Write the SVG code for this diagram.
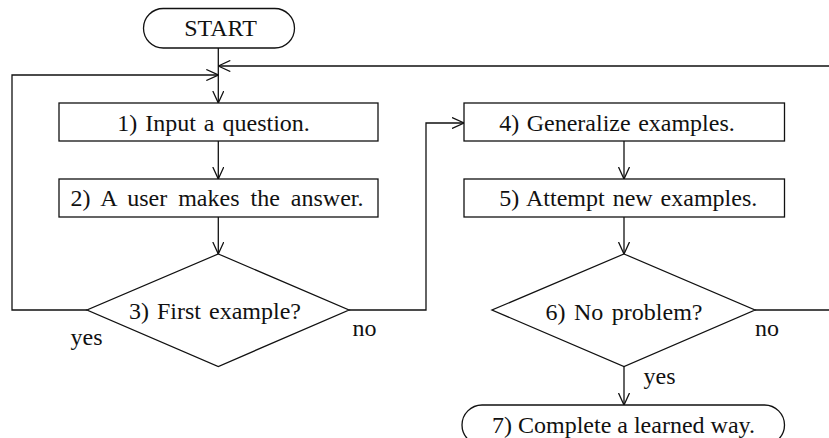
<svg xmlns="http://www.w3.org/2000/svg" width="829" height="438" viewBox="0 0 829 438">
<style>
.s{fill:#fff;stroke:#111;stroke-width:1.3}
.c{fill:none;stroke:#111;stroke-width:1.3}
text{font-family:"Liberation Serif","Times New Roman",serif;font-size:24px;fill:#111;text-anchor:middle}
</style>
<defs>
<marker id="a" viewBox="0 0 13 12" refX="12.5" refY="6" markerWidth="13" markerHeight="12" markerUnits="userSpaceOnUse" orient="auto">
<path d="M0.5,0.5 L12.5,6 L0.5,11.5" fill="none" stroke="#111" stroke-width="1.3"/>
</marker>
</defs>
<rect width="829" height="438" fill="#fff"/>
<g id="connectors">
<path class="c" d="M218.3,48 V103" marker-end="url(#a)"/>
<path class="c" d="M755,310 H840 V66 H218.3" marker-end="url(#a)"/>
<path class="c" d="M87,310 H12 V75 H218.3" marker-end="url(#a)"/>
<path class="c" d="M218.3,141 V179" marker-end="url(#a)"/>
<path class="c" d="M218.3,217 V254" marker-end="url(#a)"/>
<path class="c" d="M349,310 H426 V123 H464" marker-end="url(#a)"/>
<path class="c" d="M624,141 V179" marker-end="url(#a)"/>
<path class="c" d="M624,217 V254" marker-end="url(#a)"/>
<path class="c" d="M624,367 V405" marker-end="url(#a)"/>
</g>
<g id="start">
<rect class="s" x="143.5" y="8.5" width="151" height="39.5" rx="19.75"/>
<text x="220.5" y="36">START</text>
</g>
<g id="n1">
<rect class="s" x="59" y="103" width="319" height="38"/>
<text x="213.5" y="131" word-spacing="2">1) Input a question.</text>
</g>
<g id="n2">
<rect class="s" x="59" y="179" width="319" height="38"/>
<text x="217" y="206" word-spacing="5">2) A user makes the answer.</text>
</g>
<g id="n3">
<polygon class="s" points="218.3,254 349,310 218.3,366.5 87,310"/>
<text x="215" y="318.5" word-spacing="2">3) First example?</text>
</g>
<g id="n4">
<rect class="s" x="464" y="103" width="320.5" height="38"/>
<text x="617" y="130.5" word-spacing="1.5">4) Generalize examples.</text>
</g>
<g id="n5">
<rect class="s" x="464" y="179" width="320.5" height="38"/>
<text x="628.3" y="205.5" word-spacing="2">5) Attempt new examples.</text>
</g>
<g id="n6">
<polygon class="s" points="624,254 755,310 624,366.5 492,310"/>
<text x="624" y="320" word-spacing="2.5">6) No problem?</text>
</g>
<g id="n7">
<rect class="s" x="462" y="405" width="322.5" height="40" rx="20"/>
<text x="623.5" y="432.5">7) Complete a learned way.</text>
</g>
<g id="labels">
<text x="86.5" y="345">yes</text>
<text x="364.5" y="336">no</text>
<text x="767" y="336">no</text>
<text x="659.5" y="384">yes</text>
</g>
</svg>
